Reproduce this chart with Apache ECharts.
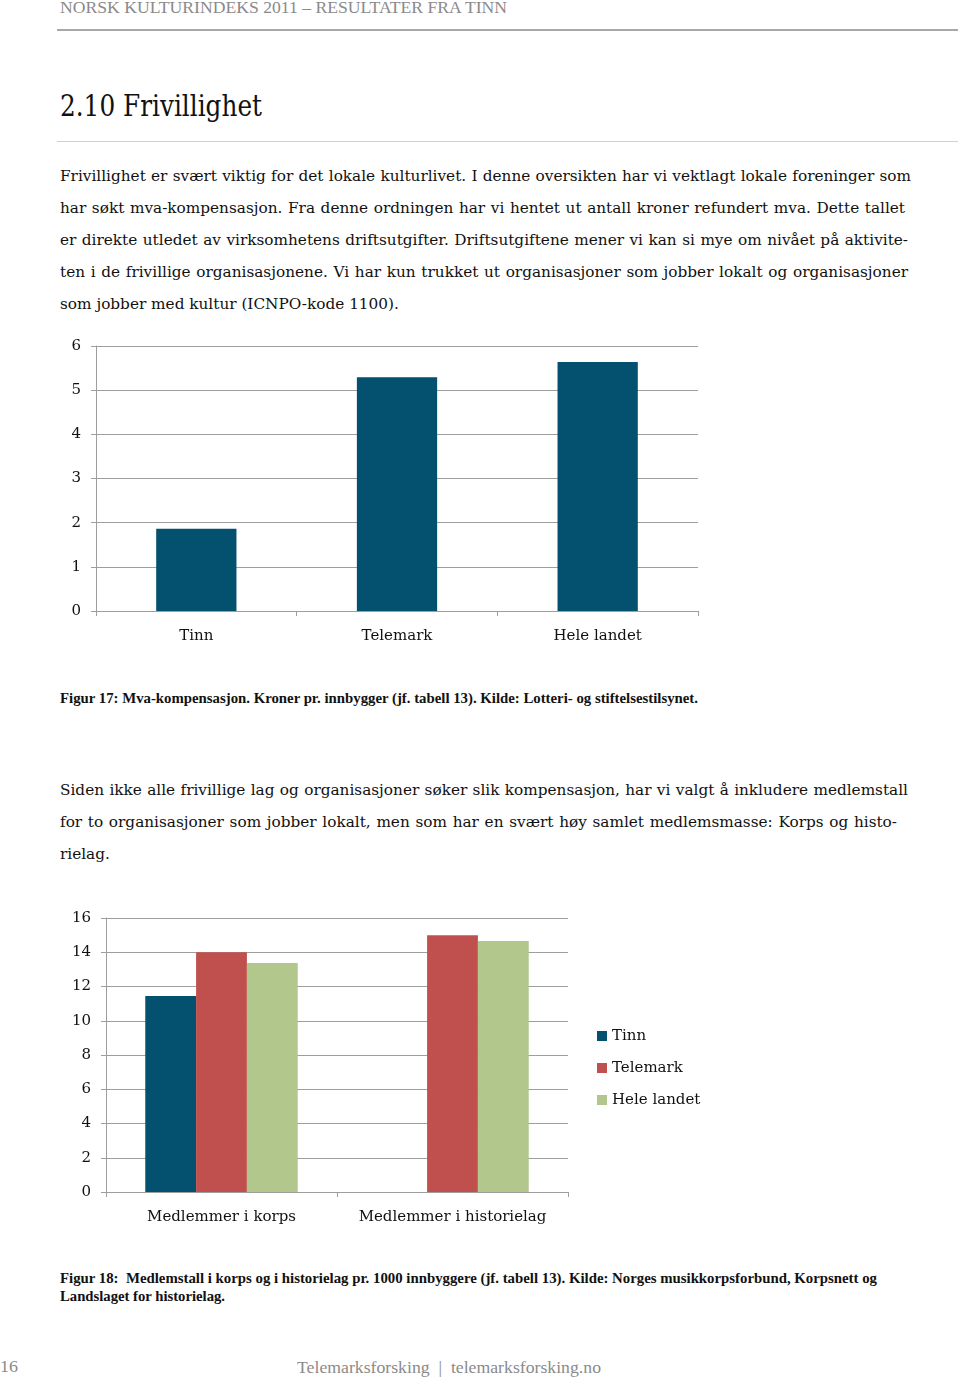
<!DOCTYPE html>
<html><head><meta charset="utf-8">
<script src="https://cdn.jsdelivr.net/npm/echarts@6/dist/echarts.min.js"></script>
<style>
html,body{margin:0;padding:0;background:#fff;}
body{width:960px;height:1378px;position:relative;overflow:hidden;font-family:"Liberation Serif",serif;color:#111;}
.abs{position:absolute;white-space:nowrap;}
.ln{position:absolute;left:60px;font-family:"DejaVu Serif",serif;font-size:16px;line-height:32px;height:32px;white-space:nowrap;}
.hdr{color:#8a8a8a;font-size:17px;}
.cap{font-weight:bold;font-size:14px;line-height:18px;}
.rule{position:absolute;left:57px;width:901px;}
#c1{position:absolute;left:0;top:330px;width:760px;height:330px;}
#c2{position:absolute;left:0;top:900px;width:760px;height:340px;}
</style></head>
<body>
<div class="abs hdr fit" data-w="447" style="left:60px;top:-2px;line-height:20px;">NORSK KULTURINDEKS 2011 – RESULTATER FRA TINN</div>
<div class="rule" style="top:29px;height:2px;background:#a8a8a8;"></div>
<div class="abs fit" data-w="202" style="left:60px;top:88px;font-size:29px;line-height:36px;font-family:'DejaVu Serif',serif;">2.10 Frivillighet</div>
<div class="rule" style="top:141px;height:1px;background:#d0d0d0;"></div>

<div id="first" class="ln just" data-w="851" style="top:160px;">Frivillighet er svært viktig for det lokale kulturlivet. I denne oversikten har vi vektlagt lokale foreninger som</div>
<div class="ln just" data-w="845" style="top:192px;">har søkt mva-kompensasjon. Fra denne ordningen har vi hentet ut antall kroner refundert mva. Dette tallet</div>
<div class="ln just" data-w="848" style="top:224px;">er direkte utledet av virksomhetens driftsutgifter. Driftsutgiftene mener vi kan si mye om nivået på aktivite-</div>
<div class="ln just" data-w="848" style="top:256px;">ten i de frivillige organisasjonene. Vi har kun trukket ut organisasjoner som jobber lokalt og organisasjoner</div>
<div class="ln" style="top:288px;">som jobber med kultur (ICNPO-kode 1100).</div>

<div id="c1"></div>
<div class="abs cap fit" data-w="638" style="left:60px;top:690px;">Figur 17: Mva-kompensasjon. Kroner pr. innbygger (jf. tabell 13). Kilde: Lotteri- og stiftelsestilsynet.</div>

<div class="ln just" data-w="848" style="top:774px;">Siden ikke alle frivillige lag og organisasjoner søker slik kompensasjon, har vi valgt å inkludere medlemstall</div>
<div class="ln just" data-w="837" style="top:806px;">for to organisasjoner som jobber lokalt, men som har en svært høy samlet medlemsmasse: Korps og histo-</div>
<div class="ln" style="top:838px;">rielag.</div>

<div id="c2"></div>
<div class="abs cap fit" data-w="817" style="left:60px;top:1270px;">Figur 18:&nbsp; Medlemstall i korps og i historielag pr. 1000 innbyggere (jf. tabell 13). Kilde: Norges musikkorpsforbund, Korpsnett og</div>
<div class="abs cap fit" data-w="165" style="left:60px;top:1288px;">Landslaget for historielag.</div>

<div class="abs hdr fit" data-w="18" style="left:0px;top:1357px;line-height:20px;">16</div>
<div class="abs hdr fit" data-w="304" style="left:297px;top:1358px;line-height:20px;">Telemarksforsking&nbsp; |&nbsp; telemarksforsking.no</div>

<script>
// ---- data ----
var fig17Categories = ['Tinn', 'Telemark', 'Hele landet'];
var fig17Values = [1.86, 5.29, 5.64];
var fig17YTicks = [0, 6, 1]; // min, max, interval

var fig18Categories = ['Medlemmer i korps', 'Medlemmer i historielag'];
var fig18SeriesNames = ['Tinn', 'Telemark', 'Hele landet'];
var fig18Tinn = [11.45, null];
var fig18Telemark = [14.0, 15.0];
var fig18Hele = [13.37, 14.65];
var fig18YTicks = [0, 16, 2];

// ---- text fitting ----
document.querySelectorAll('.fit').forEach(function(el){
  el.style.display='inline-block';
  var w = el.getBoundingClientRect().width;
  var t = +el.dataset.w;
  el.style.transformOrigin='0 0';
  el.style.transform='scaleX('+(t/w)+')';
});
// body font size from first line (natural width slightly under target)
(function(){
  var f = document.getElementById('first');
  f.style.display='inline-block';
  var w = f.getBoundingClientRect().width;
  var size = 16 * 845 / w;
  document.querySelectorAll('.ln').forEach(function(el){ el.style.fontSize = size+'px'; });
})();
document.querySelectorAll('.just').forEach(function(el){
  el.style.display='inline-block';
  el.style.wordSpacing='0px';
  var w = el.getBoundingClientRect().width;
  var t = +el.dataset.w;
  var n = (el.textContent.match(/ /g)||[]).length;
  if(n>0) el.style.wordSpacing = ((t-w)/n)+'px';
});

var serif = 'DejaVu Serif';
var gridCol = '#9e9e9e';
var blue = '#03506F', red = '#C0504D', green = '#B2C78B';

var c1 = echarts.init(document.getElementById('c1'), null, {renderer:'canvas'});
c1.setOption({
  animation:false,
  grid:{left:96, right:62, top:16, bottom:49},
  xAxis:{type:'category', data:fig17Categories,
    axisLine:{lineStyle:{color:gridCol}},
    axisTick:{show:true, length:5, lineStyle:{color:gridCol}},
    axisLabel:{color:'#111', fontFamily:serif, fontSize:15, margin:18, interval:0}},
  yAxis:{type:'value', min:fig17YTicks[0], max:fig17YTicks[1], interval:fig17YTicks[2],
    axisLine:{show:true, lineStyle:{color:gridCol}},
    axisTick:{show:true, length:5, lineStyle:{color:gridCol}},
    splitLine:{lineStyle:{color:gridCol}},
    axisLabel:{color:'#111', fontFamily:serif, fontSize:15, margin:15}},
  series:[{type:'bar', data:fig17Values, barWidth:'40%', itemStyle:{color:blue}}]
});

var c2 = echarts.init(document.getElementById('c2'), null, {renderer:'canvas'});
c2.setOption({
  animation:false,
  grid:{left:106, right:192, top:18, bottom:48},
  legend:{orient:'vertical', left:597, top:127, padding:0, itemWidth:10, itemHeight:10, itemGap:14,
    icon:'rect', data:fig18SeriesNames,
    textStyle:{color:'#111', fontFamily:serif, fontSize:15, lineHeight:18}},
  xAxis:{type:'category', data:fig18Categories,
    axisLine:{lineStyle:{color:gridCol}},
    axisTick:{show:true, length:5, lineStyle:{color:gridCol}},
    axisLabel:{color:'#111', fontFamily:serif, fontSize:15, margin:18, interval:0}},
  yAxis:{type:'value', min:fig18YTicks[0], max:fig18YTicks[1], interval:fig18YTicks[2],
    axisLine:{show:true, lineStyle:{color:gridCol}},
    axisTick:{show:true, length:5, lineStyle:{color:gridCol}},
    splitLine:{lineStyle:{color:gridCol}},
    axisLabel:{color:'#111', fontFamily:serif, fontSize:15, margin:15}},
  series:[
    {name:fig18SeriesNames[0], type:'bar', data:fig18Tinn, barGap:'0%', barCategoryGap:'34%', itemStyle:{color:blue}},
    {name:fig18SeriesNames[1], type:'bar', data:fig18Telemark, barGap:'0%', barCategoryGap:'34%', itemStyle:{color:red}},
    {name:fig18SeriesNames[2], type:'bar', data:fig18Hele, barGap:'0%', barCategoryGap:'34%', itemStyle:{color:green}}
  ]
});
</script>
</body></html>
